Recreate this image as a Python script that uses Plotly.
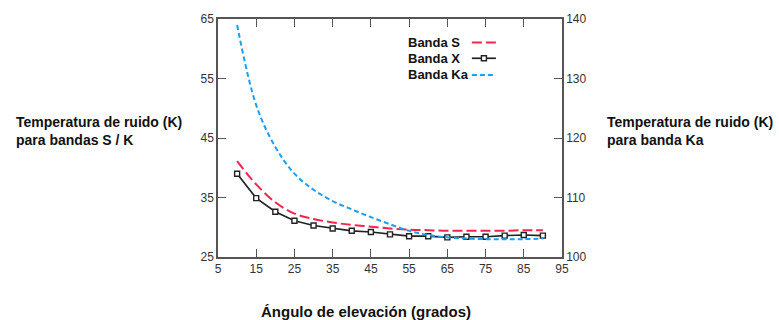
import plotly.graph_objects as go

# Elevation angles (degrees)
angles = [10, 15, 20, 25, 30, 35, 40, 45, 50, 55, 60, 65, 70, 75, 80, 85, 90]

# Noise temperature, S band (K) - left axis
temp_s = [41.1, 37.2, 34.2, 32.3, 31.4, 30.8, 30.4, 30.1, 29.8, 29.6, 29.5, 29.4,
          29.4, 29.4, 29.4, 29.5, 29.5]
# Noise temperature, X band (K) - left axis
temp_x = [39.0, 34.9, 32.6, 31.1, 30.3, 29.8, 29.4, 29.2, 28.8, 28.5, 28.5, 28.3,
          28.4, 28.4, 28.6, 28.7, 28.6]
# Noise temperature, Ka band (K) - right axis
temp_ka = [139.0, 125.5, 118.5, 114.0, 111.3, 109.4, 108.0, 106.7, 105.5, 104.4,
           103.7, 103.3, 103.1, 103.0, 103.0, 103.0, 103.1]

x_ticks = [5, 15, 25, 35, 45, 55, 65, 75, 85, 95]
y_left_ticks = [25, 35, 45, 55, 65]
y_right_ticks = [100, 110, 120, 130, 140]

band_names = ["Banda S", "Banda X", "Banda Ka"]

FONT = "Liberation Sans, Arial, sans-serif"
AXIS_COLOR = "#555555"
TICK_FONT = dict(family=FONT, size=12, color="#333333")
TITLE_FONT = dict(family=FONT, size=14, color="#111111")

RED = "#F4244E"
BLACK = "#222222"
BLUE = "#1E9FF2"
S_DASH = "10px,4px"
KA_DASH = "5px,3px"

fig = go.Figure()

fig.add_trace(go.Scatter(
    x=angles, y=temp_s, mode="lines", name=band_names[0],
    line=dict(color=RED, width=2, dash=S_DASH, shape="spline"),
    yaxis="y",
))
fig.add_trace(go.Scatter(
    x=angles, y=temp_x, mode="lines+markers", name=band_names[1],
    line=dict(color=BLACK, width=1.7),
    marker=dict(symbol="square", size=5, color="white",
                line=dict(color=BLACK, width=1.4)),
    yaxis="y",
))
fig.add_trace(go.Scatter(
    x=angles, y=temp_ka, mode="lines", name=band_names[2],
    line=dict(color=BLUE, width=2, dash=KA_DASH, shape="spline"),
    yaxis="y2",
))

fig.update_layout(
    width=779, height=320,
    margin=dict(l=218, r=217, t=14, b=63),
    paper_bgcolor="white", plot_bgcolor="white",
    showlegend=False,
    xaxis=dict(
        range=[5, 95], tickvals=x_ticks, ticks="inside", ticklen=8,
        tickcolor=AXIS_COLOR, showline=True, linecolor=AXIS_COLOR, linewidth=1.5,
        mirror="ticks", showgrid=False, zeroline=False, tickfont=TICK_FONT,
    ),
    yaxis=dict(
        range=[25, 65], tickvals=y_left_ticks, ticks="inside", ticklen=8,
        tickcolor=AXIS_COLOR, showline=True, linecolor=AXIS_COLOR, linewidth=1.5,
        mirror=True, showgrid=False, zeroline=False, tickfont=TICK_FONT,
    ),
    yaxis2=dict(
        range=[100, 140], tickvals=y_right_ticks, ticks="inside", ticklen=8,
        tickcolor=AXIS_COLOR, showline=True, linecolor=AXIS_COLOR, linewidth=1.5,
        overlaying="y", side="right", showgrid=False, zeroline=False,
        tickfont=TICK_FONT,
    ),
)

# Key: labels on the left, line samples on the right
key_rows = [0.901, 0.835, 0.765]
key_styles = [(RED, S_DASH), (BLACK, "solid"), (BLUE, KA_DASH)]
for name, ky, (color, dash) in zip(band_names, key_rows, key_styles):
    fig.add_annotation(
        text=f"<b>{name}</b>", xref="paper", yref="paper",
        x=0.5465, y=ky, xanchor="left", yanchor="middle",
        showarrow=False, font=dict(family=FONT, size=13, color="#111111"),
    )
    fig.add_shape(
        type="line", xref="paper", yref="paper",
        x0=0.738, x1=0.808, y0=ky, y1=ky,
        line=dict(color=color, width=2 if dash != "solid" else 1.7, dash=dash),
    )
# square marker on the X band sample
fig.add_shape(
    type="rect", xref="paper", yref="paper",
    x0=0.773 - 0.0073, x1=0.773 + 0.0073,
    y0=key_rows[1] - 0.0103, y1=key_rows[1] + 0.0103,
    fillcolor="white", line=dict(color=BLACK, width=1.4),
)

# Axis titles
fig.add_annotation(
    text="<b>Temperatura de ruido (K)<br>para bandas S / K</b>",
    xref="paper", yref="paper", x=-0.593, y=0.53, xanchor="left", yanchor="middle",
    align="left", showarrow=False, font=TITLE_FONT,
)
fig.add_annotation(
    text="<b>Temperatura de ruido (K)<br>para banda Ka</b>",
    xref="paper", yref="paper", x=1.125, y=0.53, xanchor="left", yanchor="middle",
    align="left", showarrow=False, font=TITLE_FONT,
)
fig.add_annotation(
    text="<b>Ángulo de elevación (grados)</b>",
    xref="paper", yref="paper", x=0.43, y=-0.228, xanchor="center", yanchor="middle",
    showarrow=False, font=dict(family=FONT, size=15, color="#111111"),
)

fig.write_html("out.html")
